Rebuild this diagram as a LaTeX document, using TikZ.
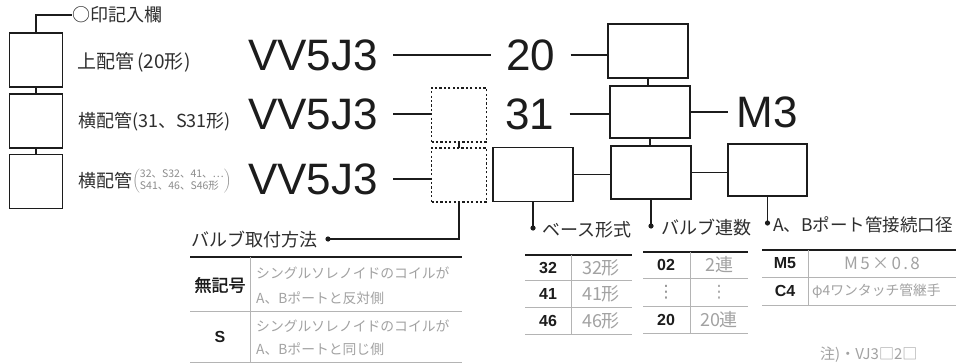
\documentclass[tikz,border=0pt]{standalone}
\usepackage{fontspec}
\setmainfont{Liberation Sans}
\newfontfamily\jp{Noto Sans CJK JP}[AutoFakeBold=1.5]
\newfontfamily\jpsp{Noto Sans CJK JP}[LetterSpace=14]
\newfontfamily\dv{DejaVu Sans}
\definecolor{ink}{HTML}{1C1C1C}
\definecolor{dk}{HTML}{2E2E2E}
\definecolor{gr}{HTML}{8C8C8C}
\definecolor{lgr}{HTML}{A2A2A2}
\definecolor{rl}{HTML}{B4B4B4}
\begin{document}
\begin{tikzpicture}[x=1pt,y=-1pt,
  ln/.style={draw=ink,line width=1.5pt},
  sq/.style={draw=ink,line width=1.3pt,minimum width=53pt,minimum height=54pt,inner sep=0,outer sep=0},
  bx/.style={draw=ink,line width=1.3pt,minimum width=80pt,minimum height=54pt,inner sep=0,outer sep=0},
  dbx/.style={draw=ink,line width=1.4pt,dash pattern=on 2.2pt off 2.2pt,minimum width=55pt,minimum height=54pt,inner sep=0,outer sep=0},
  big/.style={font=\fontsize{44}{44}\selectfont,text=ink,inner xsep=15pt,inner ysep=0pt},
  jl/.style={font=\jp\fontsize{18}{20}\selectfont,text=dk,inner sep=0pt},
  tb/.style={font=\bfseries\fontsize{16}{18}\selectfont,text=ink,inner sep=0pt},
  tbj/.style={font=\jp\bfseries\fontsize{17}{19}\selectfont,text=ink,inner sep=0pt},
  val/.style={font=\jp\fontsize{18}{20}\selectfont,text=lgr,inner sep=0pt},
  desc/.style={font=\jp\fontsize{13.8}{15}\selectfont,text=lgr,inner sep=0pt},
  vd/.style={font=\dv\fontsize{17}{19}\selectfont,inner sep=0pt},
  thk/.style={draw=ink,line width=1.6pt},
  thn/.style={draw=rl,line width=0.7pt},
  dot/.style={fill=ink}]
\useasboundingbox (0,0) rectangle (956,364);
\fill[white] (0,0) rectangle (956,364);

% left boxes
\node[sq] (k1) at (36,60) {};
\node[sq] (k2) at (36,121) {};
\node[sq] (k3) at (36,181.5) {};
\draw[ln] (k1.south) -- (k2.north);
\draw[ln] (k2.south) -- (k3.north);
\node[jl,anchor=west] (mk) at (72,15) {○印記入欄};
\draw[ln] (k1.north) |- (mk.west);

\node[jl,anchor=west,font=\jp\fontsize{19}{21}\selectfont] (l1) at (77,62) {上配管\hspace{3pt}(20形\hspace{1pt})};
\node[jl,anchor=west] (l2) at (78,122) {横配管(31、S31形)};
\node[jl,anchor=west] (l3) at (78,181) {横配管};
\node[anchor=west,inner sep=0pt,text=gr] (l3p) at (l3.east) {$\left(\vcenter{\hbox{\jp\fontsize{10.5}{11.5}\selectfont\begin{tabular}{@{}l@{}}32、S32、41、…\\S41、46、S46形\end{tabular}}}\right)$};

% row 1
\node[big] (v1) at (313,55) {VV5J3};
\node[big] (n20) at (531,55) {20};
\node[bx] (b1) at (648,51) {};
\draw[ln] (v1.east) -- (n20.west);
\draw[ln] (n20.east) -- (n20.east -| b1.west);

% row 2
\node[big] (v2) at (313,114) {VV5J3};
\node[dbx] (d1) at (459,115) {};
\node[big] (n31) at (530,114) {31};
\node[bx,minimum height=52pt] (b2) at (650,112) {};
\node[big,inner xsep=8pt] (m3) at (767,112) {M3};
\draw[ln] (v2.east) -- (v2.east -| d1.west);
\draw[ln] (n31.east) -- (n31.east -| b2.west);
\draw[ln] (b2.east) -- (b2.east -| m3.west);
\draw[ln] (b1.south) -- (b1.south |- b2.north);

% row 3
\node[big] (v3) at (313,179) {VV5J3};
\node[dbx] (d2) at (459,175) {};
\node[bx] (ba) at (533,174.5) {};
\node[bx,minimum height=53pt] (bb) at (651,172.5) {};
\node[bx,minimum width=79pt,minimum height=52pt] (bc) at (767.5,170) {};
\draw[ln] (v3.east) -- (v3.east -| d2.west);
\draw[ln] (d1.south) -- (d2.north);
\draw[ln] (ba.east) -- (ba.east -| bb.west);
\draw[ln] (bb.east) -- (bb.east -| bc.west);
\draw[ln] (b2.south) -- (b2.south |- bb.north);

% callouts
\coordinate (c0) at (328,239);
\node[jl,anchor=east] (h0) at (318,240) {バルブ取付方法};
\draw[ln] (d2.south) |- (c0);
\fill[dot] (c0) circle (2.6);

\coordinate (c1) at (533,228);
\node[jl,anchor=west] (h1) at (542,230) {ベース形式};
\draw[ln] (ba.south) -- (c1);
\fill[dot] (c1) circle (2.6);

\coordinate (c2) at (651,226);
\node[jl,anchor=west] (h2) at (661,228) {バルブ連数};
\draw[ln] (bb.south) -- (c2);
\fill[dot] (c2) circle (2.6);

\coordinate (c3) at (767.5,223);
\node[jl,anchor=west,font=\jp\fontsize{17.5}{19}\selectfont] (h3) at (773,225) {A、Bポート管接続口径};
\draw[ln] (bc.south) -- (c3);
\fill[dot] (c3) circle (2.6);

% table 1
\draw[thk] (190,257) -- (462,257);
\draw[thn] (250,257) -- (250,362);
\draw[thn] (190,311) -- (462,311);
\draw[thn] (190,362) -- (462,362);
\node[tbj] (t1a) at (220,285) {無記号};
\node[tb] (t1b) at (220,337) {S};
\node[desc,anchor=west] (t1c) at (256,273) {シングルソレノイドのコイルが};
\node[desc,anchor=west] (t1d) at (256,298) {A、Bポートと反対側};
\node[desc,anchor=west] (t1e) at (256,326) {シングルソレノイドのコイルが};
\node[desc,anchor=west] (t1f) at (256,349) {A、Bポートと同じ側};

% table 2
\draw[thk] (525,255) -- (632,255);
\draw[thn] (571,255) -- (571,334);
\draw[thn] (525,280) -- (632,280);
\draw[thn] (525,307) -- (632,307);
\draw[thn] (525,334) -- (632,334);
\node[tb] (t2a) at (548,268) {32};
\node[tb] (t2b) at (548,293.5) {41};
\node[tb] (t2c) at (548,321) {46};
\node[val] (t2d) at (601,268) {32形};
\node[val] (t2e) at (601,293.5) {41形};
\node[val] (t2f) at (601,321) {46形};

% table 3
\draw[thk] (643,252) -- (748,252);
\draw[thn] (690,252) -- (690,333);
\draw[thn] (643,278) -- (748,278);
\draw[thn] (643,306) -- (748,306);
\draw[thn] (643,333) -- (748,333);
\node[tb] (t3a) at (666,265) {02};
\node[vd,text=gr] (t3b) at (666,292) {⋮};
\node[tb] (t3c) at (666,320) {20};
\node[val] (t3d) at (719,265) {2連};
\node[vd,text=lgr] (t3e) at (719,292) {⋮};
\node[val] (t3f) at (719,320) {20連};

% table 4
\draw[thk] (762,250) -- (956,250);
\draw[thn] (808,250) -- (808,305);
\draw[thn] (762,277) -- (956,277);
\draw[thn] (762,305) -- (956,305);
\node[tb] (t4a) at (785,263.5) {M5};
\node[tb] (t4b) at (785,291) {C4};
\node[inner sep=0pt,text=lgr,font=\jpsp\fontsize{17}{19}\selectfont] (t4c) at (882,263.5) {M5×0.8};
\node[desc,anchor=west] (t4d) at (812,291) {φ4ワンタッチ管継手};

% note
\node[desc,anchor=west,font=\jp\fontsize{15}{17}\selectfont] (nt) at (820,355) {注)・VJ3□2□};
\end{tikzpicture}
\end{document}
